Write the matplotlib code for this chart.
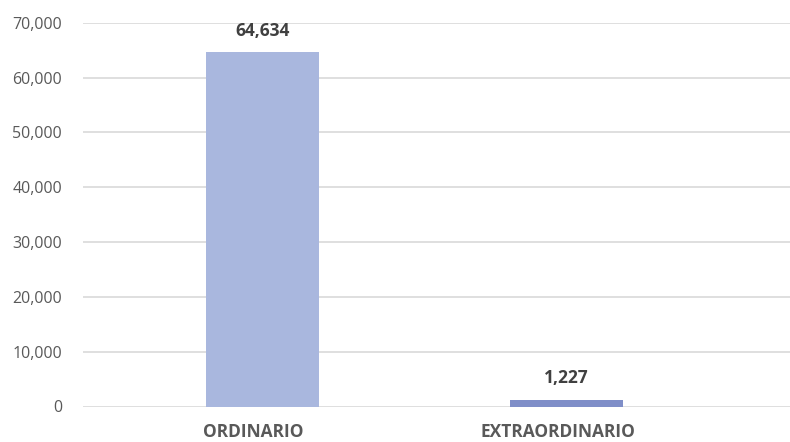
import matplotlib.pyplot as plt
from matplotlib.ticker import FuncFormatter
from matplotlib.transforms import ScaledTranslation

# data
categories = ['ORDINARIO', 'EXTRAORDINARIO']
values = [64634, 1227]
bar_colors = ['#A9B7DE', '#7F8EC8']

plt.rcParams['font.family'] = ['Open Sans', 'DejaVu Sans']

fig = plt.figure(figsize=(7.9, 4.42), dpi=100)
ax = fig.add_axes([83 / 790, (442 - 406.5) / 442, 1 - 83 / 790, (406.5 - 22.7) / 442])

x = range(len(categories))
bars = ax.bar(x, values, width=0.372, color=bar_colors, zorder=3)

ax.set_xlim(-0.59, 1.735)
ax.set_ylim(0, 70000)
ax.set_yticks(range(0, 70001, 10000))
ax.yaxis.set_major_formatter(FuncFormatter(lambda v, p: f'{int(v):,}'))
ax.grid(axis='y', color='#D9D9D9', linewidth=1.2, zorder=0)
ax.set_axisbelow(True)

for s in ax.spines.values():
    s.set_visible(False)
ax.tick_params(axis='y', length=0, pad=15, labelsize=11.5, labelcolor='#595959')
ax.tick_params(axis='x', length=0, pad=12)
ax.set_xticks(list(x))
ax.set_xticklabels(categories, fontsize=12.5, fontweight='bold', color='#595959')
# category labels sit a bit left of the bar centres in the original
shift = ScaledTranslation(-9 / 100, 0, fig.dpi_scale_trans)
for lbl in ax.get_xticklabels():
    lbl.set_transform(lbl.get_transform() + shift)

for b, v in zip(bars, values):
    ax.annotate(f'{v:,}', (b.get_x() + b.get_width() / 2, v), xytext=(0, 9),
                textcoords='offset points', ha='center', va='bottom',
                fontsize=12.5, fontweight='bold', color='#404040')

fig.savefig('out.png', dpi=100)
